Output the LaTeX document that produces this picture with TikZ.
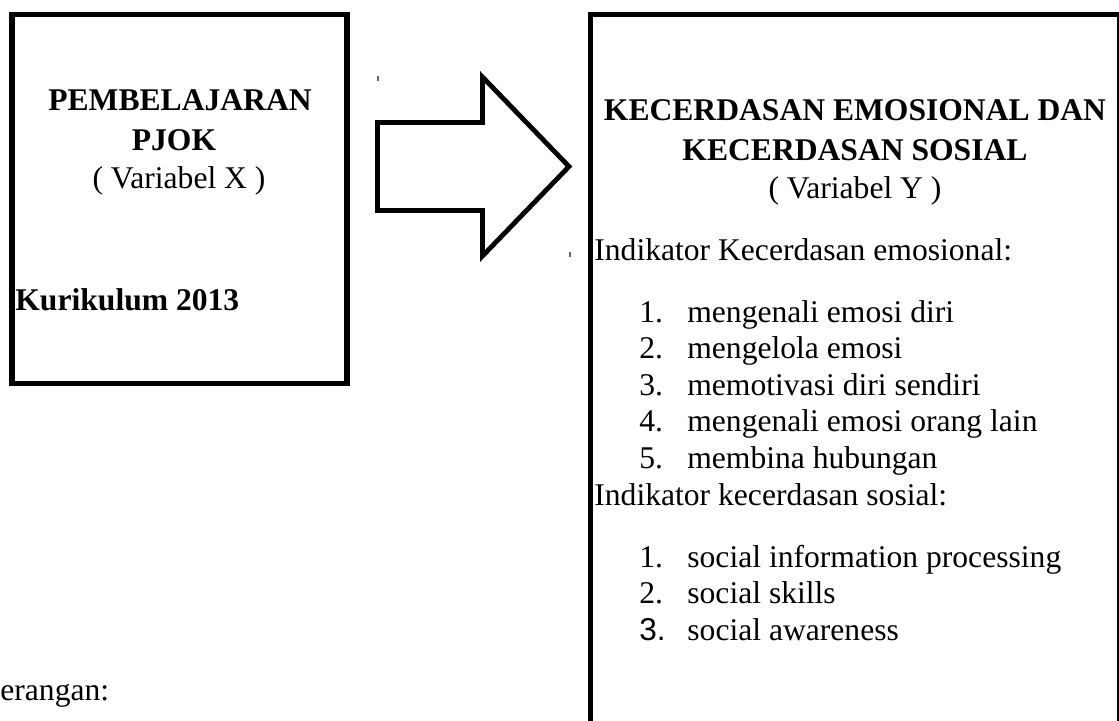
\documentclass[tikz,border=0pt]{standalone}
\usepackage{fontspec}
\setmainfont{Liberation Serif}[BoldFont={Liberation Serif Bold}]
\newfontfamily\arialfont{Liberation Sans}
\newcommand{\lnum}[1]{\makebox[24pt][l]{#1}}

\begin{document}
\begin{tikzpicture}[
    x=0.5pt, y=-0.5pt,
    frame/.style={draw, line width=2.75pt, inner sep=0pt},
    title/.style={font=\fontsize{15.8}{18}\selectfont\bfseries,
                  anchor=base, inner sep=0pt},
    sub/.style={font=\fontsize{15.8}{18}\selectfont,
                anchor=base, inner sep=0pt},
    txt/.style={font=\fontsize{15.8}{18}\selectfont,
                anchor=base west, inner sep=0pt},
    arr/.style={draw, line width=2.4pt, line join=miter},
    tickmark/.style={draw=black!60, line width=0.7pt}
]
\useasboundingbox (0,0) rectangle (1119,720);
\clip (0,0) rectangle (1119,720);

% the two boxes
\node[frame, minimum width=167.5pt, minimum height=184.5pt]  (left)  at (179.5,199)   {};
\node[frame, minimum width=264.5pt, minimum height=372.75pt] (right) at (855,387.25)  {};

% variable X
\node[title] (pjok1) at (180,110) {PEMBELAJARAN};
\node[title] (pjok2) at (174,150) {PJOK};
\node[sub]   (varx)  at (179,188) {( Variabel X )};
\node[title, anchor=base west] (kur) at (15,310) {Kurikulum 2013};

% block arrow between the boxes
\coordinate (tail) at (377.5,166.5);
\coordinate (tip)  at (569,166.5);
\draw[arr] (377.5,122.5) -- (482.5,122.5) -- (482.5,77) -- (tip)
           -- (482.5,256) -- (482.5,210.5) -- (377.5,210.5) -- cycle;

% variable Y
\node[title] (kec1) at (855,120) {KECERDASAN EMOSIONAL DAN};
\node[title] (kec2) at (855,160) {KECERDASAN SOSIAL};
\node[sub]   (vary) at (855,198) {( Variabel Y )};

\node[txt] (emo)  at (594,260) {Indikator Kecerdasan emosional:};
\node[txt] (emo1) at (639,322)   {\lnum{1.}mengenali emosi diri};
\node[txt] (emo2) at (639,358.5) {\lnum{2.}mengelola emosi};
\node[txt] (emo3) at (639,395)   {\lnum{3.}memotivasi diri sendiri};
\node[txt] (emo4) at (639,431.5) {\lnum{4.}mengenali emosi orang lain};
\node[txt] (emo5) at (639,468)   {\lnum{5.}membina hubungan};

\node[txt] (soc)  at (594,505) {Indikator kecerdasan sosial:};
\node[txt] (soc1) at (639,567)   {\lnum{1.}social information processing};
\node[txt] (soc2) at (639,603.5) {\lnum{2.}social skills};
\node[txt] (soc3) at (639,640)   {\lnum{\arialfont 3.}social awareness};

% legend, cut at the page edge
\node[txt] (ket) at (0,700) {erangan:};

% stray marks
\draw[tickmark] (378,76) -- (378,81);
\draw[tickmark] (570,252) -- (570,257);
\end{tikzpicture}
\end{document}
